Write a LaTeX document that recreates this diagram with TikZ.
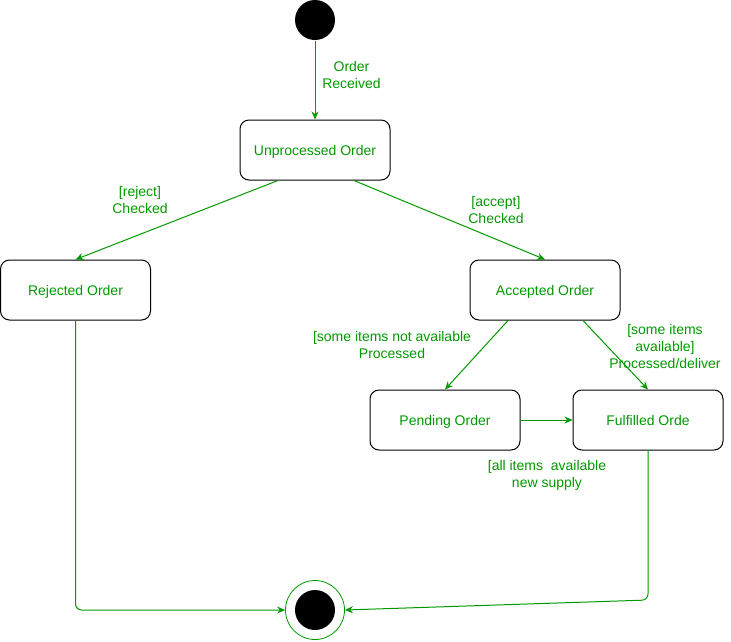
\documentclass[tikz,border=0pt]{standalone}
\usepackage{fontspec}
\setmainfont{Liberation Sans}
\usetikzlibrary{arrows.meta}
\definecolor{uml}{RGB}{0,153,0}

\begin{document}
\begin{tikzpicture}[x=1pt, y=-1pt, >={Stealth[length=8pt,width=7pt]}, line width=1pt,
	font=\fontsize{14}{17}\selectfont]
	\tikzset{
		state/.style={draw=black, rounded corners=9pt, minimum width=150pt, minimum height=60pt, inner sep=0pt,
			text height=10pt, text depth=0pt, text=uml},
		trans/.style={uml, ->},
		lbl/.style={text=uml, align=center, inner sep=0pt}
	}
	\useasboundingbox (0,0) rectangle (731,641);

	% states
	\node[circle, fill=black, minimum size=40pt, inner sep=0pt] (start) at (315,20) {};
	\node[state] (unp) at (315,150) {Unprocessed Order};
	\node[state] (rej) at (75.5,290) {Rejected Order};
	\node[state] (acc) at (545,290) {Accepted Order};
	\node[state] (pen) at (445,420) {Pending Order};
	\node[state] (ful) at (648,420) {Fulfilled Orde};
	\node[circle, draw=uml, line width=0.8pt, minimum size=59pt, inner sep=0pt] (fin) at (315,610) {};
	\node[circle, fill=black, minimum size=40pt, inner sep=0pt] (finin) at (fin) {};

	% transitions
	\draw[trans] (start) -- (unp);
	\draw[trans] ([xshift=-37pt]unp.south) -- (rej.north);
	\draw[trans] ([xshift=39pt]unp.south) -- (acc.north);
	\draw[trans] ([xshift=-37pt]acc.south) -- (pen.north);
	\draw[trans] ([xshift=38pt]acc.south) -- (ful.north);
	\draw[trans] (pen) -- (ful);
	\draw[trans, rounded corners=6pt] (rej.south) |- (fin.west);
	\coordinate (fbend) at (648,600);
	\draw[trans, rounded corners=6pt] (ful.south) -- (fbend) -- (fin.east);

	% labels
	\node[lbl] (lrecv) at (351.5,75) {Order\\Received};
	\node[lbl] (lrej) at (140,200) {[reject]\\Checked};
	\node[lbl] (lacc) at (496,210) {[accept]\\Checked};
	\node[lbl] (lpen) at (392,345) {[some items not available\\Processed};
	\node[lbl] (lful) at (665,346) {[some items\\available]\\Processed/deliver};
	\node[lbl] (lsup) at (547,475) {[all items\ \ available\\new supply};
\end{tikzpicture}
\end{document}
